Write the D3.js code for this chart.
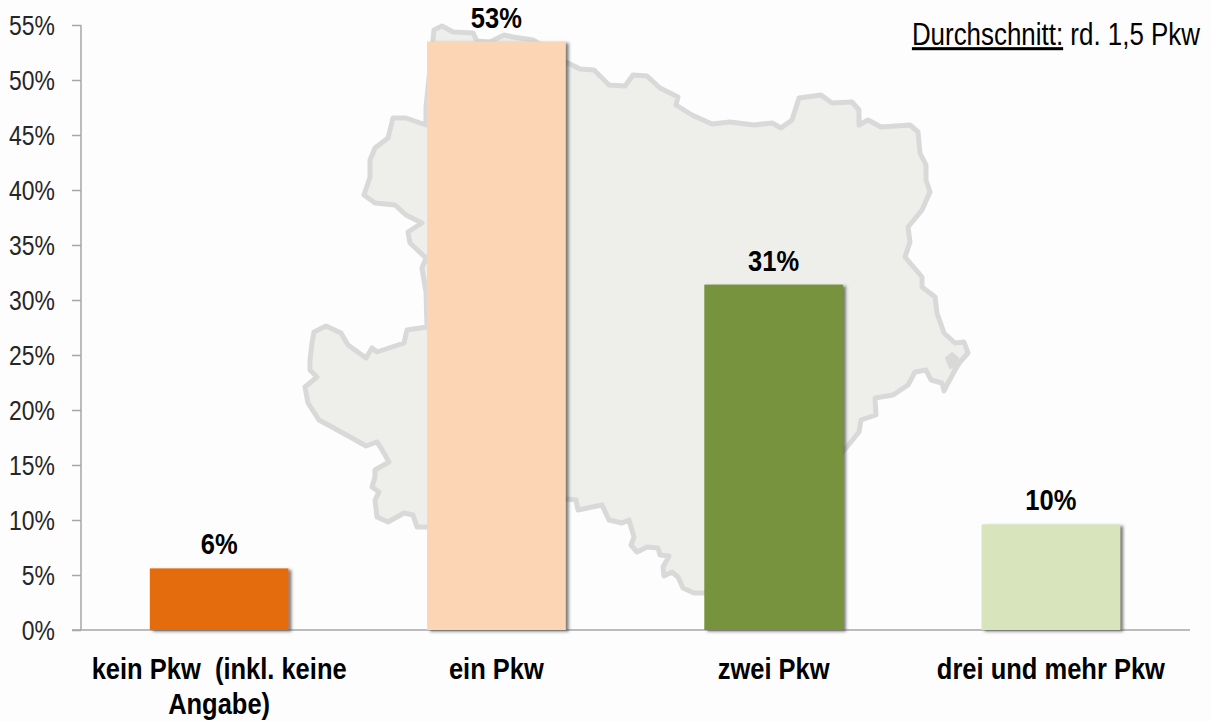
<!DOCTYPE html>
<html><head><meta charset="utf-8">
<script src="https://cdn.jsdelivr.net/npm/d3@7"></script>
<style>
html,body{margin:0;padding:0;background:#fdfdfd;overflow:hidden}
svg{display:block}
text{font-family:"Liberation Sans",Arial,sans-serif;fill:#000}
</style></head><body>
<svg id="c" width="1211" height="722"></svg>
<script>
const categories = [["kein Pkw  (inkl. keine","Angabe)"],["ein Pkw"],["zwei Pkw"],["drei und mehr Pkw"]];
const values = [5.6, 53.5, 31.4, 9.6];
const valueLabels = ["6%","53%","31%","10%"];
const barColors = ["#e46c0a","#fcd5b5","#77933c","#d7e4bc"];
const yTicks = [0,5,10,15,20,25,30,35,40,45,50,55];
const noteUnderlined = "Durchschnitt:";
const noteRest = " rd. 1,5 Pkw";
// backdrop picture: outline of the region, traced in page pixels
const regionOutline = [[433,40],[434,30],[442,26],[453,32],[473,33],[477,41],[490,42],[504,35],[513,37],[533,40],[550,50],[566,62],[580,69],[594,70],[609,85],[625,86],[633,75],[647,76],[660,88],[678,97],[676,105],[692,115],[712,124],[730,122],[754,125],[772,123],[781,128],[792,120],[799,98],[821,95],[832,103],[852,102],[859,110],[859,125],[868,120],[881,127],[910,125],[918,132],[920,153],[926,165],[926,180],[930,192],[922,210],[908,227],[910,242],[905,257],[922,277],[922,287],[935,297],[937,313],[944,333],[955,343],[964,342],[968,353],[960,362],[955,370],[948,383],[944,391],[942,383],[931,380],[926,370],[915,372],[908,385],[893,395],[875,398],[876,415],[861,420],[859,432],[846,448],[780,520],[705,593],[694,593],[683,588],[678,577],[672,572],[664,576],[663,567],[669,556],[660,555],[658,548],[647,547],[637,552],[631,545],[634,537],[629,520],[622,523],[609,520],[602,505],[578,510],[576,500],[567,499],[500,510],[427,527],[417,527],[413,515],[404,513],[388,522],[377,517],[375,500],[379,492],[372,487],[375,477],[375,470],[389,462],[381,448],[377,442],[366,446],[352,438],[341,432],[319,420],[308,403],[305,387],[317,377],[310,370],[310,360],[312,343],[314,332],[326,326],[341,333],[348,345],[366,358],[372,348],[377,352],[404,343],[407,330],[427,327],[426,292],[422,268],[426,258],[410,243],[408,232],[422,223],[406,215],[395,205],[375,203],[364,195],[370,177],[370,160],[375,148],[388,138],[393,118],[406,118],[426,125],[426,107]];
const regionLake = [[946,358],[952,353],[958,358],[957,367],[950,368]];

const svg = d3.select("#c");
const x = d3.scaleBand().domain(d3.range(values.length)).range([80.5,1189.5]).paddingInner(0.5).paddingOuter(0.25);
const y = d3.scaleLinear().domain([0,55]).range([630,25]);
const squeeze = 0.85;

const defs = svg.append("defs");
const f = defs.append("filter").attr("id","sh").attr("x","-10%").attr("y","-10%").attr("width","125%").attr("height","125%");
f.append("feDropShadow").attr("dx",3).attr("dy",1.5).attr("stdDeviation",1.5).attr("flood-color","#444").attr("flood-opacity",0.7);

svg.append("path").attr("d", d3.line().curve(d3.curveLinearClosed)(regionOutline))
  .attr("fill","#eeefeb").attr("stroke","#d9d9d9").attr("stroke-width",5).attr("stroke-linejoin","round");
svg.append("path").attr("d", d3.line().curve(d3.curveLinearClosed)(regionLake))
  .attr("fill","#d9d9d9").attr("stroke","#d9d9d9").attr("stroke-width",2);

// axes
const yAxis = d3.axisLeft(y).tickValues(yTicks).tickFormat(d=>d+"%").tickSize(9).tickPadding(0);
const gy = svg.append("g").attr("transform","translate(81,0)").call(yAxis);
gy.selectAll("path,line").attr("stroke","#a6a6a6").attr("stroke-width",1.5);
gy.select(".domain").attr("d",`M0,${y(55)}V${y(0)}`);
gy.selectAll("text").attr("x",null).attr("dy",null).attr("text-anchor","end")
  .style("font-size","27px").style("fill","#262626")
  .attr("transform",d=>`translate(-26,9) scale(${squeeze},1)`);
svg.append("line").attr("x1",72).attr("x2",1190).attr("y1",y(0)).attr("y2",y(0)).attr("stroke","#a6a6a6").attr("stroke-width",1.5);

// bars
svg.append("g").selectAll("rect").data(values).join("rect")
  .attr("x",(d,i)=>x(i)).attr("width",x.bandwidth())
  .attr("y",d=>y(d)).attr("height",d=>y(0)-y(d))
  .attr("fill",(d,i)=>barColors[i]).attr("filter","url(#sh)");

// value labels
svg.append("g").selectAll("text").data(values).join("text")
  .attr("transform",(d,i)=>`translate(${x(i)+x.bandwidth()/2},${y(d)-14}) scale(${squeeze},1)`)
  .attr("text-anchor","middle").style("font-size","30px").style("font-weight","bold")
  .text((d,i)=>valueLabels[i]);

// category labels
const cat = svg.append("g").selectAll("text").data(categories).join("text")
  .attr("transform",(d,i)=>`translate(${x(i)+x.bandwidth()/2},679) scale(${squeeze},1)`)
  .attr("text-anchor","middle").style("font-size","30px").style("font-weight","bold").style("white-space","pre").attr("xml:space","preserve");
cat.selectAll("tspan").data(d=>d).join("tspan").attr("x",0).attr("dy",(d,i)=>i?35:0).text(d=>d);

// note
const note = svg.append("text").attr("transform",`translate(1200,45) scale(${squeeze},1)`).attr("text-anchor","end")
  .style("font-size","30.5px").style("white-space","pre").attr("xml:space","preserve");
note.append("tspan").attr("text-decoration","underline").text(noteUnderlined);
note.append("tspan").text(noteRest);
</script>
</body></html>
